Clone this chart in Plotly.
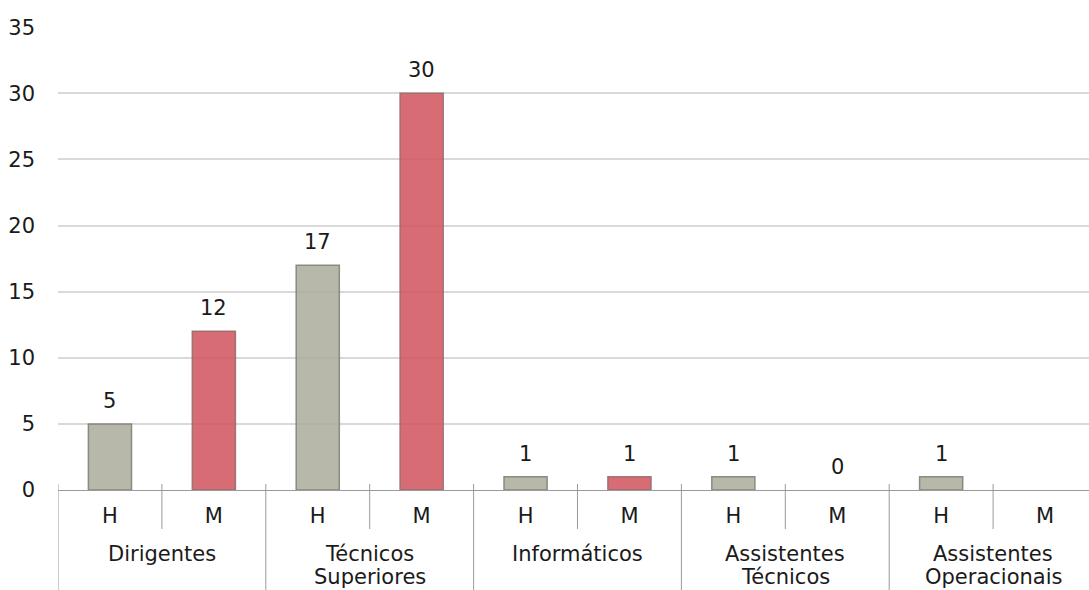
import plotly.graph_objects as go

# Staff counts by career group and sex (H = homens, M = mulheres)
groups = ["Dirigentes", "Técnicos<br>Superiores", "Informáticos",
          "Assistentes<br>Técnicos", "Assistentes<br>Operacionais"]
sexes = ["H", "M"]
values_h = [5, 17, 1, 1, 1]
values_m = [12, 30, 1, 0, None]

color_h = "rgba(170,170,155,0.85)"
color_m = "rgba(208,82,92,0.85)"
line_h = "rgba(130,130,120,0.9)"
line_m = "rgba(150,110,110,0.9)"
axis_color = "#9a9a9a"

font_family = "DejaVu Sans"
text_color = "#1a1a1a"
font_size = 21

# flatten groups x sexes into one row of slots
slot_x, slot_text, y_vals, fills, edges, edge_w = [], [], [], [], [], []
for gi, (h, m) in enumerate(zip(values_h, values_m)):
    for si, (s, v) in enumerate(zip(sexes, (h, m))):
        slot_x.append(gi * len(sexes) + si)
        slot_text.append(s)
        y_vals.append(v)
        fills.append(color_h if s == "H" else color_m)
        edges.append(line_h if s == "H" else line_m)
        edge_w.append(1.5 if v else 0)

n_slots = len(slot_x)

fig = go.Figure(
    go.Bar(
        x=slot_x,
        y=y_vals,
        width=0.415,
        marker=dict(color=fills, line=dict(color=edges, width=edge_w)),
        cliponaxis=False,
    )
)

# value labels above each bar
for xi, v in zip(slot_x, y_vals):
    if v is None:
        continue
    fig.add_annotation(
        x=xi, y=v, text=str(v), showarrow=False,
        xref="x", yref="y", yanchor="bottom", yshift=9,
        font=dict(family=font_family, size=font_size, color=text_color),
    )

shapes = []
# short ticks between H and M inside each group
for gi in range(len(groups)):
    xb = gi * len(sexes) + 0.5
    shapes.append(dict(
        type="line", xref="x", yref="paper", ysizemode="pixel", yanchor=0,
        x0=xb, x1=xb, y0=6, y1=-39,
        line=dict(color=axis_color, width=1),
    ))
# long dividers between groups
for gi in range(len(groups)):
    xb = gi * len(sexes) - 0.5
    shapes.append(dict(
        type="line", xref="x", yref="paper", ysizemode="pixel", yanchor=0,
        x0=xb, x1=xb, y0=6, y1=-100,
        line=dict(color=axis_color, width=1),
    ))

# group names centred under each pair of bars
line_gap = 23.5
for gi, name in enumerate(groups):
    xc = gi * len(sexes) + (len(sexes) - 1) / 2
    for li, part in enumerate(name.split("<br>")):
        fig.add_annotation(
            x=xc, y=0, text=part, showarrow=False,
            xref="x", yref="paper", yanchor="middle",
            yshift=-63.5 - li * line_gap,
            font=dict(family=font_family, size=font_size, color=text_color),
        )

fig.update_layout(
    width=1089,
    height=590,
    margin=dict(l=58, r=0, t=27, b=100),
    paper_bgcolor="white",
    plot_bgcolor="white",
    showlegend=False,
    shapes=shapes,
    font=dict(family=font_family, size=font_size, color=text_color),
)

fig.update_xaxes(
    type="linear",
    range=[-0.5, n_slots - 0.577],
    tickmode="array",
    tickvals=slot_x,
    ticktext=slot_text,
    showline=True,
    linecolor=axis_color,
    linewidth=1,
    ticks="",
    showgrid=False,
    zeroline=False,
    ticklabelstandoff=7,
    tickfont=dict(family=font_family, size=font_size, color=text_color),
)

fig.update_yaxes(
    range=[0, 35.02],
    tickvals=[0, 5, 10, 15, 20, 25, 30, 35],
    showgrid=True,
    gridcolor="#d9d9d9",
    gridwidth=2,
    zeroline=False,
    showline=False,
    ticks="",
    ticklabelstandoff=22,
    tickfont=dict(family=font_family, size=font_size, color=text_color),
)

fig.write_html("out.html")
